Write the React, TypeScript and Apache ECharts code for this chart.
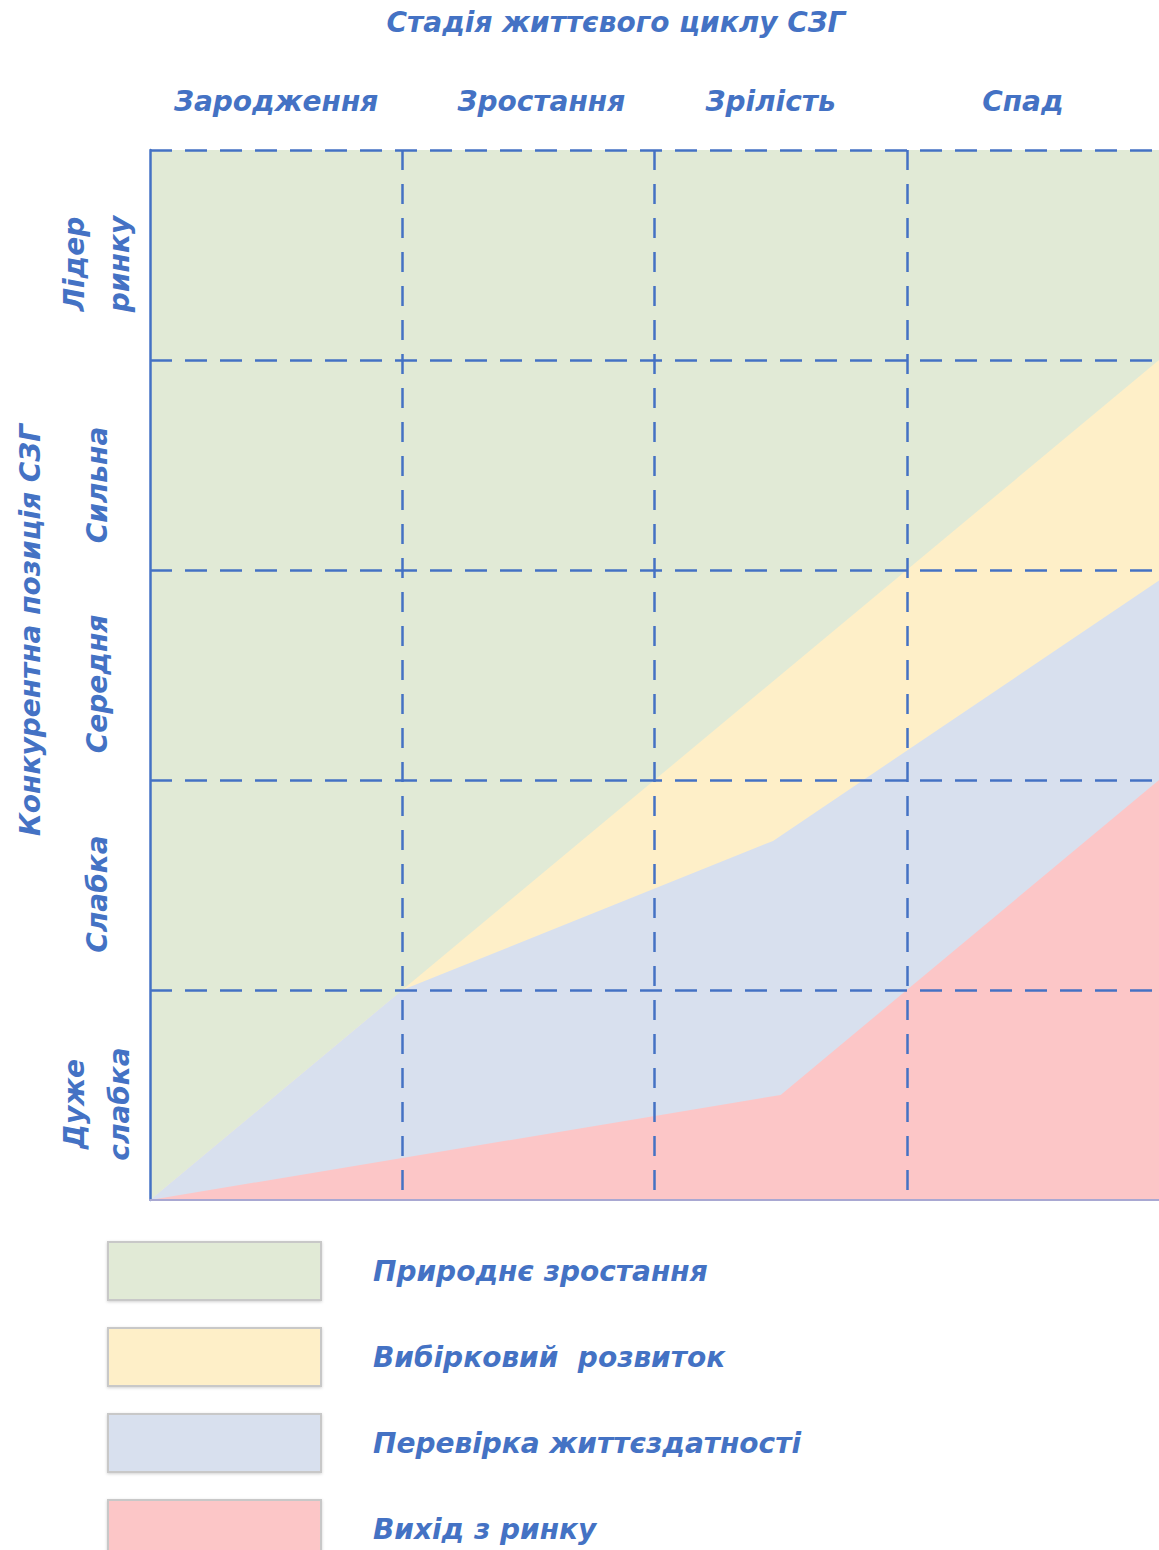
import React, { useEffect, useRef } from "react";
import * as echarts from "echarts";

// Life-cycle stages (columns) and competitive positions (rows, bottom to top)
const stages = ["Зародження", "Зростання", "Зрілість", "Спад"];
const positions = ["Дуже\nслабка", "Слабка", "Середня", "Сильна", "Лідер\nринку"];

// Zone names, in drawing order (each zone filled from the bottom up to its top edge)
const zoneNames = [
  "Природнє зростання",
  "Вибірковий  розвиток",
  "Перевірка життєздатності",
  "Вихід з ринку",
];
const zoneColors = ["#E1EAD6", "#FEEFC8", "#D8E0EE", "#FCC6C7"];

// Upper boundary of each zone as [stage, position] points
const naturalGrowthTop = [
  [0, 5],
  [4, 5],
];
const selectiveTop = [
  [0, 0],
  [1, 1],
  [2, 2],
  [3, 3],
  [4, 4],
];
const viabilityTop = [
  [0, 0],
  [1, 1],
  [2.47, 1.71],
  [4, 2.95],
];
const exitTop = [
  [0, 0],
  [1, 0.2],
  [2.5, 0.5],
  [4, 2.0],
];

const zoneData = [naturalGrowthTop, selectiveTop, viabilityTop, exitTop];

const BLUE = "#4472C4";
const FONT = "'DejaVu Sans', 'Noto Sans', sans-serif";

export default function App() {
  const ref = useRef<HTMLDivElement>(null);

  useEffect(() => {
    if (!ref.current) return;
    const chart = echarts.init(ref.current, undefined, { renderer: "svg" });

    const textBase = {
      color: BLUE,
      fontFamily: FONT,
      fontStyle: "italic" as const,
      fontWeight: "bold" as const,
      fontSize: 28,
    };

    const stageLabel = { ...textBase, verticalAlign: "middle" as const, align: "center" as const };
    const positionLabel = {
      ...textBase,
      align: "center" as const,
      verticalAlign: "middle" as const,
      lineHeight: 45,
    };

    // small per-label nudges along the axis
    const stagePads = [
      [0, 0, 0, 0],
      [0, 0, 0, 26],
      [0, 20, 0, 0],
      [0, 20, 0, 0],
    ];
    const stageData = stages.map((value, i) => ({
      value,
      textStyle: { ...stageLabel, padding: stagePads[i] },
    }));
    const positionData = positions.map((value, i) => ({
      value,
      textStyle: { ...positionLabel, padding: [0, i === 3 ? 40 : 18, 0, 0] },
    }));

    chart.setOption({
      animation: false,
      backgroundColor: "#ffffff",
      grid: { left: 150, top: 150, width: 1010, height: 1050 },
      xAxis: [
        {
          type: "value",
          min: 0,
          max: 4,
          interval: 1,
          z: 10,
          axisLine: { show: true, onZero: false, lineStyle: { color: "#A9A8D2", width: 2 } },
          axisTick: { show: false },
          axisLabel: { show: false },
          splitLine: {
            show: true,
            showMinLine: false,
            showMaxLine: false,
            lineStyle: { color: BLUE, width: 2.5, type: [20, 14] },
          },
        },
        {
          type: "category",
          position: "top",
          data: stageData,
          boundaryGap: true,
          axisLine: { show: false },
          axisTick: { show: false },
          splitLine: { show: false },
          axisLabel: { ...stageLabel, interval: 0, margin: 49, hideOverlap: false },
        },
      ],
      yAxis: [
        {
          type: "value",
          min: 0,
          max: 5,
          interval: 1,
          z: 10,
          axisLine: { show: true, onZero: false, lineStyle: { color: BLUE, width: 2.5 } },
          axisTick: { show: false },
          axisLabel: { show: false },
          splitLine: {
            show: true,
            showMinLine: false,
            showMaxLine: true,
            lineStyle: { color: BLUE, width: 2.5, type: [22, 13] },
          },
        },
        {
          type: "category",
          position: "left",
          data: positionData,
          boundaryGap: true,
          axisLine: { show: false },
          axisTick: { show: false },
          splitLine: { show: false },
          axisLabel: {
            ...positionLabel,
            interval: 0,
            rotate: 90,
            margin: 53,
            hideOverlap: false,
          },
        },
      ],
      legend: {
        orient: "vertical",
        left: 102,
        top: 1236,
        icon: "rect",
        itemWidth: 213,
        itemHeight: 58,
        itemGap: 26,
        selectedMode: false,
        data: zoneNames.map((name, i) => ({
          name,
          itemStyle: {
            color: zoneColors[i],
            borderColor: "#C8C8C8",
            borderWidth: 2,
            shadowColor: "rgba(0,0,0,0.18)",
            shadowBlur: 3,
            shadowOffsetY: 1,
          },
        })),
        textStyle: { ...textBase, padding: [0, 0, 0, 47] },
      },
      graphic: [
        {
          type: "text",
          x: 616,
          y: 22,
          style: {
            text: "Стадія життєвого циклу СЗГ",
            ...textBase,
            fill: BLUE,
            align: "center",
            verticalAlign: "middle",
          },
        },
        {
          type: "text",
          x: 30,
          y: 630,
          rotation: Math.PI / 2,
          style: {
            text: "Конкурентна позиція СЗГ",
            ...textBase,
            fill: BLUE,
            align: "center",
            verticalAlign: "middle",
          },
        },
      ],
      series: zoneData.map((data, i) => ({
        type: "line",
        name: zoneNames[i],
        xAxisIndex: 0,
        yAxisIndex: 0,
        data,
        showSymbol: false,
        symbol: "none",
        silent: true,
        itemStyle: { color: zoneColors[i] },
        lineStyle: { width: 0, color: zoneColors[i] },
        areaStyle: { color: zoneColors[i], opacity: 1, origin: "start" },
        z: 2 + i,
      })),
    });

    return () => chart.dispose();
  }, []);

  return (
    <div
      style={{
        position: "absolute",
        left: 0,
        top: 0,
        width: 1159,
        height: 1550,
        overflow: "hidden",
      }}
    >
      <div ref={ref} style={{ width: 1159, height: 1600 }} />
    </div>
  );
}
